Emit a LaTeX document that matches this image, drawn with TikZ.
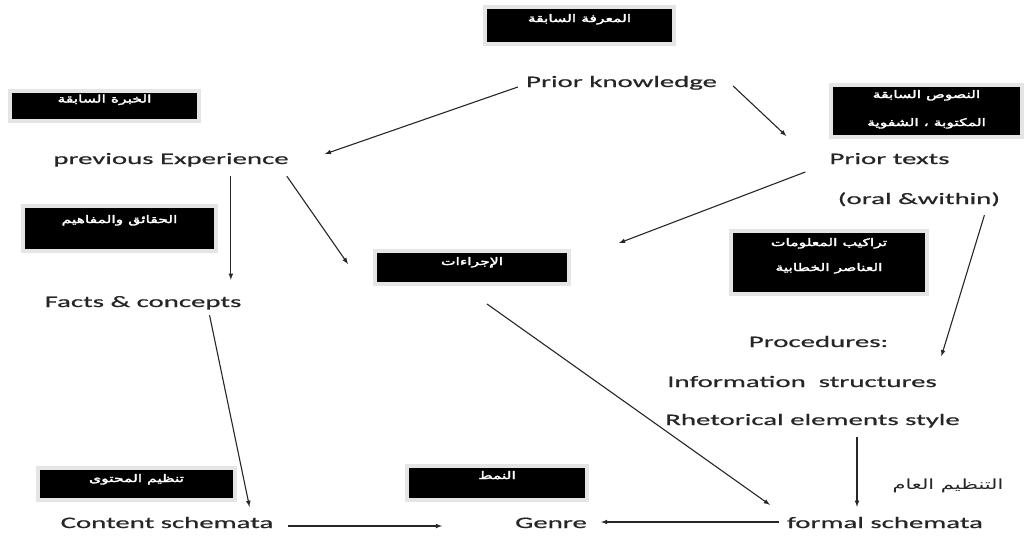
\documentclass[tikz,border=0pt]{standalone}
\usepackage{fontspec}
\setmainfont{Carlito}[FakeStretch=1.8,FakeBold=0.8]
\newfontfamily\arabicfont[Script=Arabic,FakeStretch=1.5,FakeBold=3]{DejaVu Sans}
\newfontfamily\arabicplain[Script=Arabic,FakeStretch=1.5]{DejaVu Sans}
\TeXXeTstate=1
\usetikzlibrary{arrows,positioning}
\tikzstyle{concept}=[inner sep=0pt,anchor=base,text height=11pt,text depth=4pt,
font=\fontsize{16}{18}\selectfont,text=black!85]
\tikzstyle{abox}=[rectangle,fill=black,draw=black!10,line width=4pt]
\tikzstyle{alabel}=[anchor=base,inner sep=0pt,text=white,
font=\arabicfont\fontsize{10.4}{12}\selectfont]
\tikzstyle{link}=[-latex,line width=1.1pt,draw=black!85]

\begin{document}
\begin{tikzpicture}[x=1pt,y=-1pt]
            \useasboundingbox (0,0) rectangle (1028,550);

            % Arabic boxes

            \node[abox,minimum width=189pt,minimum height=37pt] (bknow) at (579.5,25.5) {};
            \node[alabel] (lknow) at (579.5,22) {\beginR المعرفة السابقة\endR};
            \node[abox,minimum width=189pt,minimum height=30pt] (bexp) at (104.5,105.5) {};
            \node[alabel] (lexp) at (104.5,102.5) {\beginR الخبرة السابقة\endR};
            \node[abox,minimum width=191pt,minimum height=52pt] (btexts) at (926.5,111) {};
            \node[alabel] (ltexts) at (926.5,98) {\beginR النصوص السابقة\endR};
            \node[alabel] (ltexts2) at (926.5,126) {\beginR المكتوبة ، الشفوية\endR};
            \node[abox,minimum width=193pt,minimum height=45pt] (bfacts) at (119.5,228.5) {};
            \node[alabel] (lfacts) at (119.5,223) {\beginR الحقائق والمفاهيم\endR};
            \node[abox,minimum width=194pt,minimum height=33pt] (bproc) at (472,267.5) {};
            \node[alabel] (lproc) at (472,265) {\beginR الإجراءات\endR};
            \node[abox,minimum width=196pt,minimum height=63pt] (bstruct) at (829,262.5) {};
            \node[alabel] (lstruct) at (829,246) {\beginR تراكيب المعلومات\endR};
            \node[alabel] (lstruct2) at (829,271) {\beginR العناصر الخطابية\endR};
            \node[abox,minimum width=197pt,minimum height=32pt] (bcont) at (136.5,484) {};
            \node[alabel] (lcont) at (136.5,482) {\beginR تنظيم المحتوى\endR};
            \node[abox,minimum width=180pt,minimum height=34pt] (bgenre) at (497,483) {};
            \node[alabel] (lgenre) at (497,479) {\beginR النمط\endR};

            % English PART

            \node[concept] (pk) at (621.5,87) {Prior knowledge};
            \node[concept] (pe) at (171,164) {previous Experience};
            \node[concept] (pt) at (889.5,164) {Prior texts};
            \node[concept] (ow) at (919,204) {(oral \&within)};
            \node[concept] (fc) at (143,307) {Facts \& concepts};
            \node[concept] (pr) at (818.5,347) {Procedures:};
            \node[concept] (is) at (802,387) {Information\ \ structures};
            \node[concept] (re) at (812.5,425) {Rhetorical elements style};
            \node[concept] (cs) at (167,528) {Content schemata};
            \node[concept] (ge) at (551,528) {Genre};
            \node[concept] (fs) at (885,528) {formal schemata};
            \node[anchor=base,inner sep=0pt,text=black!85,
                  font=\arabicplain\fontsize{14}{16}\selectfont] (go) at (948,489) {\beginR التنظيم العام\endR};

            % Connections

            \coordinate (pedrop) at ([shift={(-58,8)}]pe.south east);
            \coordinate (retail) at ([shift={(44.5,8)}]re.south);

            \draw[link] ([shift={(-8,3.5)}]pk.west) -- ([shift={(36,-6.5)}]pe.east);
            \draw[link] ([shift={(16,2.5)}]pk.east) -- ([shift={(-43,-24.5)}]pt.west);
            \draw[link] ([shift={(-24,11.5)}]pt.west) -- ([shift={(48,-6)}]bproc.north east);
            \draw[link,shorten >=16pt] (pedrop) -- (pedrop |- fc.north);
            \draw[link] ([shift={(-2,8)}]pe.south east) -- ([shift={(-25,-3.5)}]bproc.west);
            \draw[link] ([shift={(-16,7)}]ow.south east) -- ([shift={(53,5)}]pr.south east);
            \draw[link] ([shift={(-32,4)}]fc.south east) -- ([shift={(-24,-10)}]cs.north east);
            \draw[link] ([shift={(15,18)}]bproc.south) -- ([shift={(-17,-12)}]fs.north west);
            \draw[link,shorten >=10pt] (retail) -- (retail |- fs.north);
            \draw[link] ([shift={(14,1.5)}]cs.east) -- ([shift={(-73,1.5)}]ge.west);
            \draw[link] ([shift={(-8,-2.5)}]fs.west) -- ([shift={(14,-2.5)}]ge.east);

\end{tikzpicture}
\end{document}
